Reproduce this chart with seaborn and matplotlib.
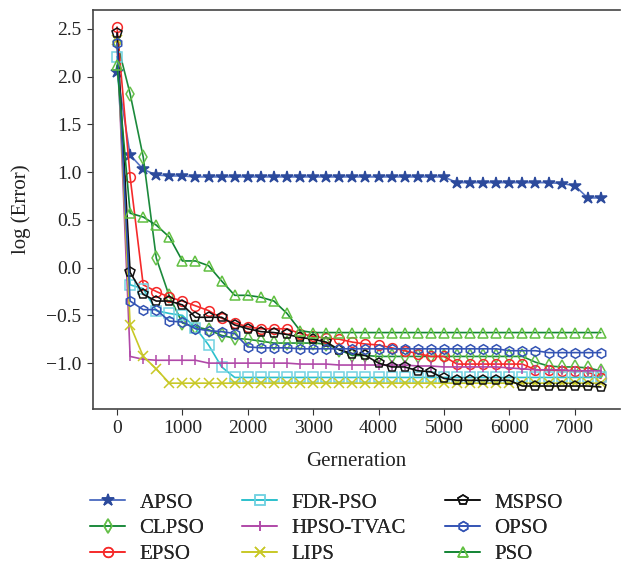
import pandas as pd
import matplotlib
matplotlib.use("Agg")
import matplotlib.pyplot as plt
import seaborn as sns

# generations where the error was sampled (every 200)
generations = list(range(0, 7401, 200))

apso = [2.05, 1.18, 1.03, 0.97, 0.96, 0.96, 0.95, 0.95, 0.95, 0.95,
        0.95, 0.95, 0.95, 0.95, 0.95, 0.95, 0.95, 0.95, 0.95, 0.95,
        0.95, 0.95, 0.95, 0.95, 0.95, 0.95, 0.89, 0.89, 0.89, 0.89,
        0.89, 0.89, 0.89, 0.89, 0.88, 0.86, 0.73, 0.73]
clpso = [2.36, 1.82, 1.16, 0.10, -0.30, -0.58, -0.62, -0.65, -0.71, -0.74,
         -0.75, -0.77, -0.79, -0.79, -0.79, -0.79, -0.80, -0.86, -0.92, -0.92,
         -0.93, -0.93, -0.93, -0.93, -0.93, -0.93, -0.93, -0.93, -0.93, -0.93,
         -0.93, -0.93, -0.99, -1.03, -1.04, -1.04, -1.05, -1.08]
epso = [2.52, 0.95, -0.18, -0.25, -0.31, -0.35, -0.40, -0.45, -0.53, -0.58,
        -0.62, -0.64, -0.64, -0.64, -0.69, -0.72, -0.74, -0.75, -0.78, -0.80,
        -0.81, -0.84, -0.87, -0.90, -0.93, -0.93, -1.01, -1.01, -1.01, -1.01,
        -1.01, -1.01, -1.07, -1.07, -1.08, -1.08, -1.09, -1.16]
fdr_pso = [2.21, -0.18, -0.22, -0.45, -0.48, -0.50, -0.63, -0.81, -1.04, -1.15,
           -1.15, -1.15, -1.15, -1.15, -1.15, -1.15, -1.15, -1.15, -1.15, -1.15,
           -1.15, -1.15, -1.15, -1.15, -1.15, -1.15, -1.15, -1.15, -1.15, -1.15,
           -1.15, -1.15, -1.15, -1.15, -1.15, -1.15, -1.15, -1.15]
hpso_tvac = [2.40, -0.93, -0.96, -0.97, -0.97, -0.97, -0.97, -1.00, -1.00, -1.00,
             -1.00, -1.00, -1.00, -1.00, -1.01, -1.01, -1.01, -1.02, -1.02, -1.02,
             -1.02, -1.02, -1.02, -1.03, -1.03, -1.04, -1.04, -1.04, -1.04, -1.04,
             -1.05, -1.06, -1.07, -1.07, -1.07, -1.08, -1.08, -1.08]
lips = [2.38, -0.60, -0.93, -1.06, -1.21, -1.21, -1.21, -1.21, -1.21, -1.21,
        -1.21, -1.21, -1.21, -1.21, -1.21, -1.21, -1.21, -1.21, -1.21, -1.21,
        -1.21, -1.21, -1.21, -1.21, -1.21, -1.21, -1.21, -1.21, -1.21, -1.21,
        -1.21, -1.21, -1.21, -1.21, -1.21, -1.21, -1.21, -1.21]
mspso = [2.46, -0.05, -0.28, -0.35, -0.35, -0.39, -0.52, -0.52, -0.52, -0.60,
         -0.64, -0.67, -0.68, -0.70, -0.73, -0.75, -0.78, -0.86, -0.90, -0.92,
         -1.00, -1.04, -1.04, -1.08, -1.09, -1.16, -1.18, -1.18, -1.18, -1.18,
         -1.18, -1.24, -1.24, -1.24, -1.24, -1.24, -1.24, -1.25]
opso = [2.35, -0.35, -0.44, -0.44, -0.56, -0.57, -0.64, -0.66, -0.67, -0.69,
        -0.83, -0.84, -0.84, -0.84, -0.85, -0.85, -0.85, -0.85, -0.85, -0.85,
        -0.85, -0.85, -0.85, -0.85, -0.85, -0.85, -0.85, -0.85, -0.85, -0.85,
        -0.87, -0.87, -0.87, -0.89, -0.89, -0.89, -0.89, -0.89]
pso = [2.12, 0.57, 0.53, 0.445, 0.32, 0.07, 0.07, 0.02, -0.14, -0.29,
       -0.29, -0.31, -0.35, -0.48, -0.66, -0.68, -0.68, -0.68, -0.68, -0.68,
       -0.68, -0.68, -0.68, -0.68, -0.68, -0.68, -0.68, -0.68, -0.68, -0.68,
       -0.68, -0.68, -0.68, -0.68, -0.68, -0.68, -0.68, -0.68]

series = {
    'APSO': apso, 'CLPSO': clpso, 'EPSO': epso,
    'FDR-PSO': fdr_pso, 'HPSO-TVAC': hpso_tvac, 'LIPS': lips,
    'MSPSO': mspso, 'OPSO': opso, 'PSO': pso,
}

# (line colour, marker, marker edge colour, filled)
estilos = {
    'APSO': ('#5674c4', '*', '#2c4a9c', True),
    'CLPSO': ('#1c8a3c', 'd', '#66c04a', False),
    'EPSO': ('#f52a2a', 'o', '#f52a2a', False),
    'FDR-PSO': ('#2cc0cc', 's', '#72d2e2', False),
    'HPSO-TVAC': ('#b048a8', '|', '#b048a8', False),
    'LIPS': ('#c8c826', 'x', '#c8c826', False),
    'MSPSO': ('#111111', 'p', '#111111', False),
    'OPSO': ('#3454b4', 'h', '#3454b4', False),
    'PSO': ('#128434', '^', '#62c042', False),
}

sns.set_style('ticks')
plt.rcParams['font.family'] = ['Liberation Serif', 'DejaVu Serif']
plt.rcParams['axes.unicode_minus'] = True

fig = plt.figure(figsize=(6.21, 5.76), dpi=100)
ax = fig.add_axes([0.149, 0.290, 0.849, 0.693])

for nome, valores in series.items():
    cor, marcador, borda, cheio = estilos[nome]
    df = pd.DataFrame({'Generation': generations, 'Error': valores})
    sns.lineplot(data=df, x='Generation', y='Error', ax=ax, label=nome,
                 color=cor, linewidth=1.2, marker=marcador,
                 markersize=9 if marcador == '*' else 7,
                 markeredgecolor=borda,
                 markerfacecolor=borda if cheio else 'none',
                 markeredgewidth=1.1, errorbar=None, sort=False)

ax.set_xlim(-375, 7690)
ax.set_ylim(-1.48, 2.70)
ax.set_xticks([0, 1000, 2000, 3000, 4000, 5000, 6000, 7000])
ax.set_yticks([-1.0, -0.5, 0.0, 0.5, 1.0, 1.5, 2.0, 2.5])
ax.set_yticklabels(['−1.0', '−0.5', '0.0', '0.5', '1.0', '1.5', '2.0', '2.5'])
ax.tick_params(labelsize=14, direction='out', length=4.5, colors='#333333',
               labelcolor='#222222')
for lado in ['left', 'bottom', 'top']:
    ax.spines[lado].set_color('#444444')
    ax.spines[lado].set_linewidth(1.2)
ax.spines['right'].set_visible(False)

ax.set_xlabel('Gerneration', fontsize=15, color='#222222', labelpad=11)
ax.set_ylabel('log (Error)', fontsize=15, color='#222222', labelpad=11)

# three legend columns placed at fixed positions, like the reference
handles, labels = ax.get_legend_handles_labels()
ax.get_legend().remove()
x_colunas = [90 / 621, 242 / 621, 445 / 621]
for i, x0 in enumerate(x_colunas):
    leg = fig.legend(handles[3 * i:3 * i + 3], labels[3 * i:3 * i + 3],
                     loc='upper left', bbox_to_anchor=(x0, 1 - 493 / 576),
                     frameon=False, fontsize=15, handlelength=1.7,
                     handletextpad=0.67, labelspacing=0.3,
                     borderpad=0, borderaxespad=0)
    fig.add_artist(leg)

plt.savefig('out.png', dpi=100)
